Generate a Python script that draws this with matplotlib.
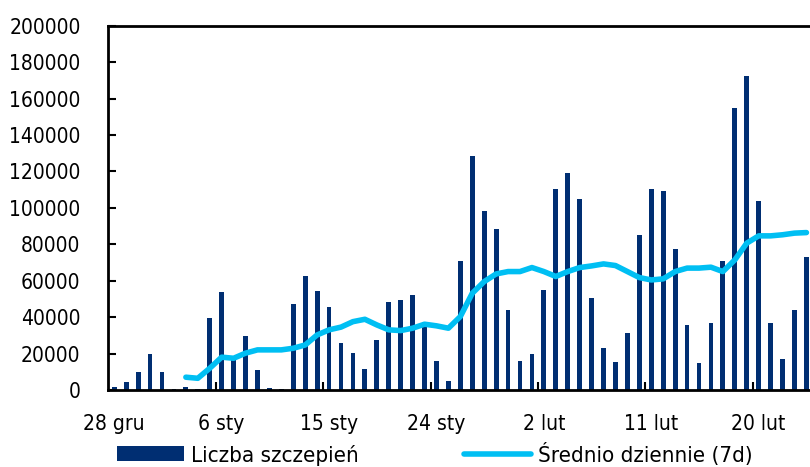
import matplotlib.pyplot as plt
import pandas as pd
from matplotlib import font_manager
from matplotlib.lines import Line2D
from matplotlib.patches import Patch

# dzienna liczba szczepień od 28 grudnia
start_date = "2020-12-28"
vaccinations = [
    1800, 4200, 10000, 20000, 9700, 500, 1500, 300, 39500, 53800,
    17000, 29500, 11000, 1200, 300, 47300, 62600, 54400, 45800, 25700,
    20100, 11400, 27500, 48200, 49500, 52200, 37200, 16100, 4900, 70900,
    128600, 98200, 88500, 43800, 15700, 19600, 54800, 110600, 119100, 104800,
    50700, 23300, 15200, 31500, 85200, 110400, 109500, 77300, 35400, 15000,
    36600, 70700, 154800, 172200, 103700, 36800, 17000, 44000, 72900,
]
# średnia 7-dniowa (od 3 stycznia)
avg_7d = [
    7000, 6400, 11900, 18000, 17400, 20200, 22000, 22000, 22000, 22900,
    24700, 30200, 33000, 34500, 37500, 38800, 35700, 33000, 32600, 33900,
    36100, 35200, 33900, 40300, 53100, 59500, 63700, 65000, 65000, 67200,
    65000, 62300, 65000, 67200, 68100, 69200, 68300, 65000, 61700, 60400,
    61000, 65000, 66900, 66900, 67400, 65000, 71400, 80600, 84600, 84600,
    85200, 86100, 86400,
]
months_pl = {12: "gru", 1: "sty", 2: "lut"}

# wąska czcionka, jeśli jest; inaczej zwykła, ale mniejsza
installed = {f.name for f in font_manager.fontManager.ttflist}
condensed = [f for f in font_manager.fontManager.ttflist
             if f.name == "DejaVu Sans" and "ondensed" in str(f.stretch) + f.fname]
if "Liberation Sans Narrow" in installed:
    plt.rcParams["font.family"] = ["Liberation Sans Narrow", "DejaVu Sans"]
    fs = 17.5
elif condensed:
    plt.rcParams["font.family"] = ["DejaVu Sans"]
    plt.rcParams["font.stretch"] = "condensed"
    fs = 15
else:
    plt.rcParams["font.family"] = ["Liberation Sans", "DejaVu Sans"]
    fs = 14.5

dates = pd.date_range(start_date, periods=len(vaccinations), freq="D")
x = list(range(len(dates)))
x_avg = x[len(x) - len(avg_7d):]

bar_color = "#002e72"
line_color = "#00bff3"

fig = plt.figure(figsize=(8.1, 4.67), dpi=100)
ax = fig.add_axes([0.1337, 0.165, 1 - 0.1337, 0.78])

ax.bar(x, vaccinations, width=0.4, color=bar_color, zorder=2)
ax.plot(x_avg, avg_7d, color=line_color, lw=4, solid_capstyle="round",
        solid_joinstyle="round", zorder=3)

# etykiety co 9 dni, kreski na granicach kategorii
label_pos = x[::9]
ax.set_xticks(label_pos)
ax.set_xticklabels([f"{d.day} {months_pl[d.month]}" for d in dates[::9]])
ax.set_xticks([p + 8.5 for p in label_pos[:-1]], minor=True)
ax.tick_params(axis="x", which="major", length=0, pad=17, labelsize=fs)
ax.tick_params(axis="x", which="minor", direction="in", length=6, width=1.5)
ax.set_yticks(range(0, 200001, 20000))
ax.tick_params(axis="y", direction="in", length=6, width=1.5, pad=20, labelsize=fs)

ax.set_xlim(-0.5, 58.3)
ax.set_ylim(0, 200000)

for side in ("left", "bottom", "top"):
    ax.spines[side].set_linewidth(2)
ax.spines["right"].set_visible(False)

handles = [
    Patch(facecolor=bar_color, label="Liczba szczepień"),
    Line2D([], [], color=line_color, lw=4, solid_capstyle="round",
           label="Średnio dziennie (7d)"),
]
fig.legend(handles=handles, loc="lower left", bbox_to_anchor=(0.12, -0.04),
           ncol=2, frameon=False, fontsize=fs * 1.07, handlelength=3.0,
           handleheight=0.65, handletextpad=0.32, columnspacing=4.7)

fig.savefig("out.png", dpi=100)
